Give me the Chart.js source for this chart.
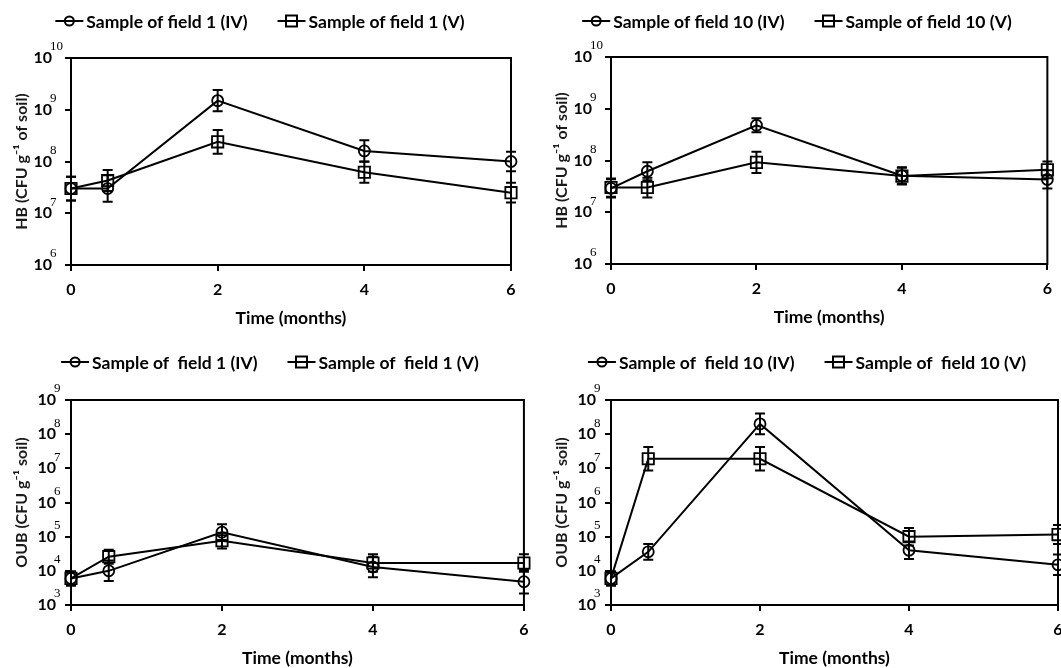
<!DOCTYPE html>
<html><head><meta charset="utf-8">
<script src="https://cdn.jsdelivr.net/npm/chart.js@4.4.1/dist/chart.umd.min.js"></script>
<style>
html,body{margin:0;padding:0;background:#fff;}
#wrap{position:relative;width:1061px;height:668px;overflow:hidden;background:#fff;}
canvas{position:absolute;}
</style></head><body>
<div id="wrap">
<canvas id="c1" width="540" height="336" style="left:0;top:0"></canvas>
<canvas id="c2" width="521" height="336" style="left:540px;top:0"></canvas>
<canvas id="c3" width="540" height="332" style="left:0;top:336px"></canvas>
<canvas id="c4" width="540" height="332" style="left:540px;top:336px"></canvas>
</div>
<script>
// ---------- data ----------
const timeMonths = [0, 0.5, 2, 4, 6];
const xTickValues = [0, 2, 4, 6];
const hbDecades = [1e6, 1e7, 1e8, 1e9, 1e10];
const oubDecades = [1e3, 1e4, 1e5, 1e6, 1e7, 1e8, 1e9];
const xTitle = 'Time (months)';
const hbTitle = 'HB (CFU g\u207B\u00B9 of soil)';
const oubTitle = 'OUB (CFU g\u207B\u00B9 soil)';

// HB, field 1
const hbField1Labels = ['Sample of field 1 (IV)', 'Sample of field 1 (V)'];
const hbField1IV = [3.0e7, 3.0e7, 1.5e9, 1.6e8, 1.0e8];
const hbField1V = [3.0e7, 4.3e7, 2.4e8, 6.2e7, 2.5e7];
const hbField1IVErr = [1.7, 1.8, 1.6, 1.6, 1.55];   // multiplicative error factor
const hbField1VErr = [1.7, 1.6, 1.7, 1.6, 1.55];

// HB, field 10
const hbField10Labels = ['Sample of field 10 (IV)', 'Sample of field 10 (V)'];
const hbField10IV = [2.9e7, 6.2e7, 4.8e8, 5.1e7, 4.3e7];
const hbField10V = [3.0e7, 3.0e7, 9.2e7, 5.0e7, 6.6e7];
const hbField10IVErr = [1.5, 1.5, 1.37, 1.45, 1.5];
const hbField10VErr = [1.5, 1.55, 1.6, 1.45, 1.45];

// OUB, field 1
const oubField1Labels = ['Sample of  field 1 (IV)', 'Sample of  field 1 (V)'];
const oubField1IV = [6e3, 1.0e4, 1.35e5, 1.3e4, 4.8e3];
const oubField1V = [6e3, 2.6e4, 7.6e4, 1.7e4, 1.7e4];
const oubField1IVErr = [1.6, 2.0, 1.7, 2.0, 2.2];
const oubField1VErr = [1.6, 1.6, 1.7, 1.8, 1.8];

// OUB, field 10
const oubField10Labels = ['Sample of  field 10 (IV)', 'Sample of  field 10 (V)'];
const oubField10IV = [6e3, 3.6e4, 2.0e8, 4.0e4, 1.5e4];
const oubField10V = [6e3, 1.9e7, 1.9e7, 1.0e5, 1.15e5];
const oubField10IVErr = [1.6, 1.7, 2.0, 1.8, 2.0];
const oubField10VErr = [1.6, 2.2, 2.2, 1.8, 1.9];

// ---------- styling / plugins ----------
const FONT = 'Lato, "Liberation Sans", sans-serif';
Chart.defaults.font.family = FONT;
Chart.defaults.color = '#000';

const framePlugin = {
  id: 'frame',
  beforeDatasetsDraw(chart) {
    const {ctx, chartArea: a} = chart;
    ctx.save();
    ctx.strokeStyle = '#000'; ctx.lineWidth = 2;
    ctx.strokeRect(a.left, a.top, a.right - a.left, a.bottom - a.top);
    ctx.restore();
  }
};

const errorBarPlugin = {
  id: 'errbars',
  afterDatasetsDraw(chart) {
    const {ctx} = chart;
    const ys = chart.scales.y;
    ctx.save();
    ctx.strokeStyle = '#000'; ctx.lineWidth = 2;
    chart.data.datasets.forEach((ds, di) => {
      const meta = chart.getDatasetMeta(di);
      meta.data.forEach((pt, i) => {
        const v = ds.data[i].y, f = ds.errFactor[i];
        const y1 = ys.getPixelForValue(v * f), y2 = ys.getPixelForValue(v / f);
        const x = pt.x, c = 5;
        ctx.beginPath();
        ctx.moveTo(x, y1); ctx.lineTo(x, y2);
        ctx.moveTo(x - c, y1); ctx.lineTo(x + c, y1);
        ctx.moveTo(x - c, y2); ctx.lineTo(x + c, y2);
        ctx.stroke();
      });
    });
    ctx.restore();
  }
};

const exponentPlugin = {
  id: 'exponents',
  afterDraw(chart) {
    const {ctx} = chart;
    const s = chart.scales.y;
    const o = s.options;
    const labelRight = s.right - o.grid.tickLength - o.ticks.padding;
    ctx.save();
    ctx.font = '13px "Liberation Serif", "DejaVu Serif", serif';
    ctx.fillStyle = '#000';
    ctx.textAlign = 'left'; ctx.textBaseline = 'middle';
    s.ticks.forEach(t => {
      const y = s.getPixelForValue(t.value);
      ctx.fillText(String(Math.round(Math.log10(t.value))), labelRight - 2, y - 11);
    });
    ctx.restore();
  }
};

const legendPlugin = {
  id: 'lineLegend',
  afterDraw(chart, args, opts) {
    const {ctx} = chart;
    ctx.save();
    ctx.font = 'bold 17.5px ' + FONT;
    ctx.fillStyle = '#000'; ctx.strokeStyle = '#000'; ctx.lineWidth = 2;
    ctx.textBaseline = 'middle'; ctx.textAlign = 'left';
    const lineW = 28, gapText = 3, gapItem = 30;
    const ds = chart.data.datasets;
    const widths = ds.map(d => lineW + gapText + ctx.measureText(d.label).width);
    const total = widths.reduce((a, b) => a + b, 0) + gapItem * (ds.length - 1);
    let x = opts.cx - total / 2;
    const y = opts.cy;
    ds.forEach((d, i) => {
      ctx.beginPath(); ctx.moveTo(x, y); ctx.lineTo(x + lineW, y); ctx.stroke();
      if (d.pointStyle === 'circle') { ctx.beginPath(); ctx.arc(x + lineW / 2, y, 4.5, 0, Math.PI*2); ctx.stroke(); }
      else { ctx.beginPath(); ctx.rect(x + lineW / 2 - 5.5, y - 5.5, 11, 11); ctx.stroke(); }
      ctx.fillText(d.label, x + lineW + gapText, y + 1);
      x += widths[i] + gapItem;
    });
    ctx.restore();
  }
};

function makeSeries(label, vals, errs, style) {
  return {
    label,
    data: timeMonths.map((t, i) => ({x: t, y: vals[i]})),
    errFactor: errs,
    borderColor: '#000', borderWidth: 2,
    pointStyle: style,
    pointRadius: style === 'circle' ? 5.5 : 8,
    pointHoverRadius: style === 'circle' ? 5.5 : 8,
    pointBorderWidth: 1.8,
    pointBorderColor: '#000',
    pointBackgroundColor: 'rgba(0,0,0,0)',
    tension: 0, fill: false, clip: false
  };
}

function buildChart(p) {
  const cfg = {
    type: 'line',
    data: {datasets: [
      makeSeries(p.labels[0], p.iv, p.ivErr, 'circle'),
      makeSeries(p.labels[1], p.v, p.vErr, 'rect')
    ]},
    options: {
      responsive: false, animation: false, devicePixelRatio: 1,
      layout: {padding: {left: 0, top: 0, right: 0, bottom: 0}},
      plugins: {
        legend: {display: false}, tooltip: {enabled: false},
        lineLegend: {cx: p.legendCx, cy: p.legendCy}
      },
      scales: {
        x: {
          type: 'linear', min: 0, max: 6,
          afterBuildTicks: s => { s.ticks = xTickValues.map(v => ({value: v})); },
          afterFit: s => { s.height = 64; },
          ticks: {font: {weight: 'bold', size: 16}, color: '#000', padding: 9, maxRotation: 0},
          grid: {display: true, drawOnChartArea: false, drawTicks: true, tickLength: 6, color: '#000', lineWidth: 2},
          border: {display: true, color: '#000', width: 2},
          title: {display: true, text: xTitle, font: {weight: 'bold', size: 17.5}, color: '#000', padding: {top: 0, bottom: 0}}
        },
        y: {
          type: 'logarithmic', min: p.decades[0], max: p.decades[p.decades.length - 1],
          afterBuildTicks: s => { s.ticks = p.decades.map(v => ({value: v})); },
          afterFit: s => { s.width = 59; },
          ticks: {font: {weight: 'bold', size: 16}, color: '#000', padding: p.tickPad, callback: () => '10'},
          grid: {display: true, drawOnChartArea: false, drawTicks: true, tickLength: 6, color: '#000', lineWidth: 2},
          border: {display: true, color: '#000', width: 2},
          title: {display: true, text: p.yTitle, font: {weight: 'bold', size: 16}, color: '#1a1a1a', padding: {top: 0, bottom: 0}}
        }
      }
    },
    plugins: [framePlugin, errorBarPlugin, exponentPlugin, legendPlugin]
  };
  const chart = new Chart(document.getElementById(p.id), cfg);
  for (let k = 0; k < 3; k++) {
    const a = chart.chartArea;
    const pad = chart.config.options.layout.padding;
    pad.left += p.area.left - a.left;
    pad.top += p.area.top - a.top;
    pad.right += a.right - p.area.right;
    pad.bottom += a.bottom - p.area.bottom;
    chart.update('none');
  }
  return chart;
}

const panels = [
  {id: 'c1', labels: hbField1Labels, iv: hbField1IV, v: hbField1V, ivErr: hbField1IVErr, vErr: hbField1VErr,
   decades: hbDecades, yTitle: hbTitle, tickPad: 13, legendCx: 260, legendCy: 21,
   area: {left: 71, top: 58, right: 511, bottom: 265}},
  {id: 'c2', labels: hbField10Labels, iv: hbField10IV, v: hbField10V, ivErr: hbField10IVErr, vErr: hbField10VErr,
   decades: hbDecades, yTitle: hbTitle, tickPad: 13, legendCx: 257, legendCy: 21,
   area: {left: 71, top: 57, right: 510, bottom: 264}},
  {id: 'c3', labels: oubField1Labels, iv: oubField1IV, v: oubField1V, ivErr: oubField1IVErr, vErr: oubField1VErr,
   decades: oubDecades, yTitle: oubTitle, tickPad: 9, legendCx: 270, legendCy: 26,
   area: {left: 71, top: 64, right: 521, bottom: 269}},
  {id: 'c4', labels: oubField10Labels, iv: oubField10IV, v: oubField10V, ivErr: oubField10IVErr, vErr: oubField10VErr,
   decades: oubDecades, yTitle: oubTitle, tickPad: 9, legendCx: 267, legendCy: 26,
   area: {left: 71, top: 64, right: 518, bottom: 269}}
];
panels.forEach(buildChart);
</script>
</body></html>
